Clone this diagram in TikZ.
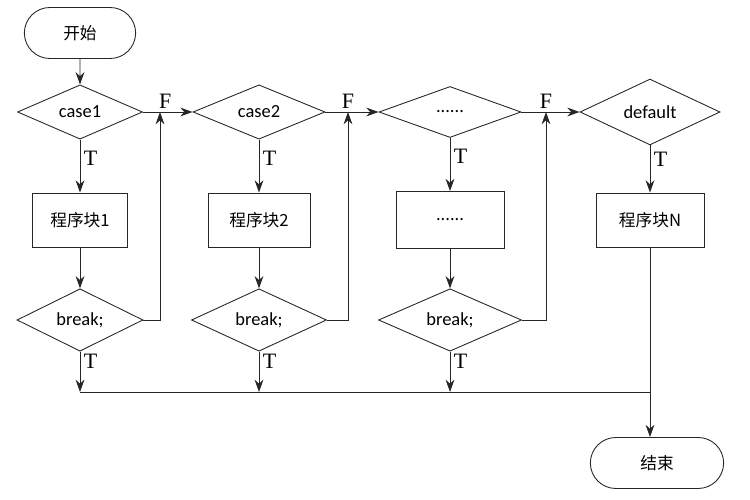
\documentclass[tikz,border=0pt]{standalone}
\usepackage{fontspec}
\setmainfont{Carlito}
\newfontfamily\cjk{Noto Sans CJK SC}
\newfontfamily\tfserif{Liberation Serif}
\usepackage{tikz}
\usetikzlibrary{arrows.meta,shapes.geometric,shapes.misc}

\begin{document}
\begin{tikzpicture}[>={Stealth[length=7pt,width=5pt]},line width=0.5pt,draw=black!85,auto,node distance=2.16cm,
    every node/.style={font=\fontsize{10.5}{12}\selectfont},
    term/.style={rounded rectangle,draw=black!85,minimum height=1.02cm,font=\cjk\fontsize{9.5}{11}\selectfont},
    decision/.style={diamond,draw=black!85,inner sep=0pt,minimum height=1.02cm},
    block/.style={rectangle,draw=black!85,minimum height=1.08cm,font=\cjk\fontsize{9.5}{11}\selectfont},
    lbl/.style={font=\tfserif\fontsize{12.5}{14}\selectfont,inner sep=2pt}]
  \useasboundingbox (0,0) rectangle (15,-10);

  \node[term,minimum width=2.46cm]       (start) at (1.6,-0.66)  {开始};
  \node[decision,minimum width=2.5cm]    (c1)    at (1.6,-2.24)  {case1};
  \node[block,minimum width=1.9cm]       (b1)    [below of=c1]   {程序块1};
  \node[decision,minimum width=2.52cm]   (k1)    [below of=b1,node distance=2cm] {break;};

  \node[decision,minimum width=2.64cm]   (c2)    at (5.18,-2.24) {case2};
  \node[block,minimum width=2.04cm]      (b2)    [below of=c2]   {程序块2};
  \node[decision,minimum width=2.7cm]    (k2)    [below of=b2,node distance=2cm] {break;};

  \node[decision,minimum width=2.84cm]   (c3)    at (9.0,-2.24)  {......};
  \node[block,minimum width=2.16cm,minimum height=1.14cm] (b3) [below of=c3] {......};
  \node[decision,minimum width=2.86cm]   (k3)    [below of=b3,node distance=2cm] {break;};

  \node[decision,minimum width=2.8cm]    (dft)   at (13.0,-2.24) {default};
  \node[block,minimum width=2.16cm]      (bN)    [below of=dft]  {程序块N};
  \node[term,minimum width=2.9cm]        (end)   at (13.14,-9.26) {结束};

  % junctions
  \coordinate (v1) at (3.2,-2.24);
  \coordinate (v2) at (6.96,-2.24);
  \coordinate (v3) at (10.92,-2.24);
  \coordinate (m1) at (1.6,-7.84);

  \path[->] (start) edge (c1)
        (c1) edge node[lbl,pos=.35] {T} (b1)
        (b1) edge (k1)
        (k1) edge node[lbl,pos=.25] {T} (k1 |- m1)
        (c2) edge node[lbl,pos=.35] {T} (b2)
        (b2) edge (k2)
        (k2) edge node[lbl,pos=.25] {T} (k2 |- m1)
        (c3) edge node[lbl,pos=.35] {T} (b3)
        (b3) edge (k3)
        (k3) edge node[lbl,pos=.25] {T} (k3 |- m1)
        (dft) edge node[lbl,pos=.3] {T} (bN)
        (bN) edge (bN |- end.north);

  % false branches
  \draw (c1) -- (v1) node[lbl,above,xshift=3pt] {F};
  \draw[->] (v1) -- (c2);
  \draw (c2) -- (v2) node[lbl,above] {F};
  \draw[->] (v2) -- (c3);
  \draw (c3) -- (v3) node[lbl,above] {F};
  \draw[->] (v3) -- (dft);
  \draw[->] (k1.east) -| (v1);
  \draw[->] (k2.east) -| (v2);
  \draw[->] (k3.east) -| (v3);

  \draw (m1) -- (bN |- m1);
\end{tikzpicture}
\end{document}
